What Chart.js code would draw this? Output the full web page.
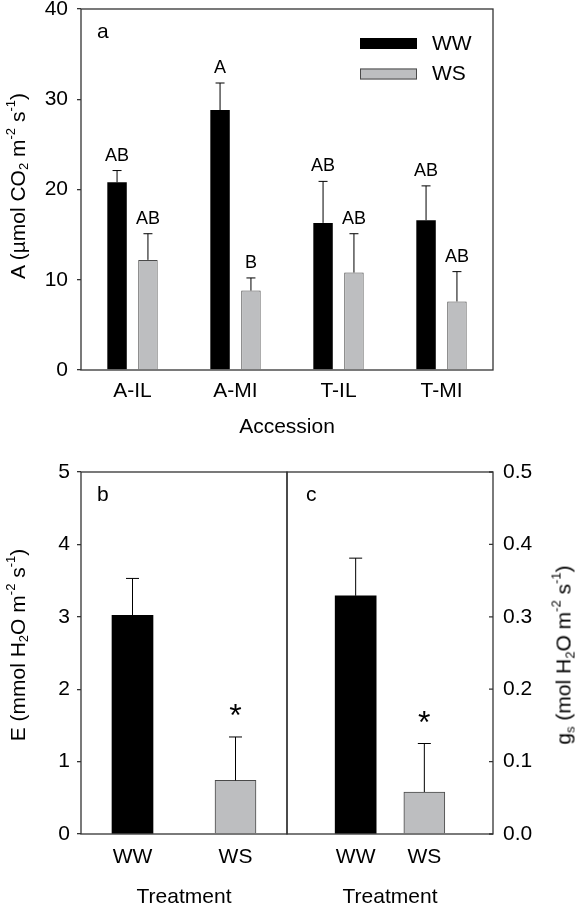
<!DOCTYPE html>
<html>
<head>
<meta charset="utf-8">
<script src="https://cdn.jsdelivr.net/npm/chart.js@4.4.1/dist/chart.umd.min.js"></script>
<style>
  body { margin: 0; background: #fff; }
  #figure { position: relative; width: 581px; height: 906px; overflow: hidden; }
  #figure canvas { position: absolute; left: 0; top: 0; }
  .ytitle {
    position: absolute;
    transform: translate(-50%, -50%) rotate(-90deg);
    white-space: nowrap;
    font: 21px 'Liberation Sans', Arial, sans-serif;
    line-height: 1;
    color: #000;
  }
  .ytitle sub, .ytitle sup { font-size: 0.62em; line-height: 0; }
  .ytitle sub { vertical-align: -0.3em; }
  .ytitle sup { vertical-align: 0.75em; }
</style>
</head>
<body>
<div id="figure">
  <canvas id="chartA" width="581" height="906"></canvas>
  <canvas id="chartB" width="581" height="906"></canvas>
  <canvas id="chartC" width="581" height="906"></canvas>
  <div class="ytitle" style="left:17px; top:186px">A (µmol CO<sub>2</sub> m<sup>-2</sup> s<sup>-1</sup>)</div>
  <div class="ytitle" style="left:17px; top:645px">E (mmol H<sub>2</sub>O m<sup>-2</sup> s<sup>-1</sup>)</div>
  <div class="ytitle" style="left:563px; top:655px">g<sub>s</sub> (mol H<sub>2</sub>O m<sup>-2</sup> s<sup>-1</sup>)</div>
</div>

<script>
// Panel a: net photosynthesis per accession
const accessions = ['A-IL', 'A-MI', 'T-IL', 'T-MI'];
const photoWW = [20.8, 28.8, 16.3, 16.6];
const photoWWErr = [1.3, 3.0, 4.6, 3.8];
const photoWS = [12.2, 8.8, 10.8, 7.6];
const photoWSErr = [2.9, 1.4, 4.3, 3.3];
const lettersWW = ['AB', 'A', 'AB', 'AB'];
const lettersWS = ['AB', 'B', 'AB', 'AB'];
const photoTicks = [0, 10, 20, 30, 40];

// Panels b and c: transpiration and stomatal conductance per treatment
const treatments = ['WW', 'WS'];
const transpiration = [3.02, 0.74];
const transpirationErr = [0.51, 0.60];
const conductance = [0.329, 0.058];
const conductanceErr = [0.052, 0.067];
const stars = ['', '*'];
const transpirationTicks = [0, 1, 2, 3, 4, 5];
const conductanceTicks = [0, 0.1, 0.2, 0.3, 0.4, 0.5];

const FONT = "'Liberation Sans', Arial, sans-serif";
const BLACK = '#000000';
const GREY = '#bdbec0';
const GREY_EDGE = '#4a4a4a';
const FRAME = '#333333';

// error bars, letters, frame, panel letter and legend
const figurePlugin = {
    id: 'figure',
    afterDatasetsDraw(chart, args, opts) {
        const ctx = chart.ctx;
        const area = chart.chartArea;
        ctx.save();

        chart.data.datasets.forEach((ds, di) => {
            const meta = chart.getDatasetMeta(di);
            const yScale = chart.scales[meta.yAxisID];
            meta.data.forEach((bar, i) => {
                const v = ds.data[i];
                if (v === null || v === undefined) return;
                const top = yScale.getPixelForValue(v + ds.errors[i]);
                ctx.strokeStyle = '#000';
                ctx.lineWidth = 1;
                ctx.beginPath();
                ctx.moveTo(bar.x, bar.y);
                ctx.lineTo(bar.x, top);
                ctx.moveTo(bar.x - opts.cap, top);
                ctx.lineTo(bar.x + opts.cap, top);
                ctx.stroke();
                const mark = ds.marks[i];
                if (mark) {
                    ctx.fillStyle = '#000';
                    ctx.font = opts.markFont;
                    ctx.textAlign = 'center';
                    ctx.textBaseline = 'alphabetic';
                    ctx.fillText(mark, bar.x, top - opts.markGap);
                }
            });
        });

        // box round the plot
        ctx.strokeStyle = FRAME;
        ctx.lineWidth = 1.3;
        ctx.strokeRect(area.left, area.top, area.right - area.left, area.bottom - area.top);

        // ticks pointing inwards on a right-hand axis
        if (opts.insideTicks) {
            const y = chart.scales.y;
            ctx.beginPath();
            y.ticks.forEach(t => {
                const py = y.getPixelForValue(t.value);
                ctx.moveTo(area.right - 4, py);
                ctx.lineTo(area.right, py);
            });
            ctx.stroke();
        }

        ctx.fillStyle = '#000';
        ctx.font = '21px ' + FONT;
        ctx.textAlign = 'left';
        ctx.textBaseline = 'alphabetic';
        ctx.fillText(opts.letter, area.left + opts.letterX, area.top + 29);

        if (opts.legend) {
            chart.data.datasets.forEach((ds, di) => {
                const x = opts.legend.x;
                const y = opts.legend.y + di * opts.legend.step;
                ctx.fillStyle = ds.backgroundColor;
                ctx.fillRect(x, y, 57, 11);
                if (ds.borderWidth) {
                    ctx.strokeStyle = ds.borderColor;
                    ctx.lineWidth = 1;
                    ctx.strokeRect(x + 0.5, y + 0.5, 56, 10);
                }
                ctx.fillStyle = '#000';
                ctx.font = '21px ' + FONT;
                ctx.textBaseline = 'middle';
                ctx.fillText(ds.label, x + 72, y + 6);
            });
        }
        ctx.restore();
    }
};

function yAxis(ticks, width, position, padding, decimals) {
    return {
        position: position,
        min: ticks[0],
        max: ticks[ticks.length - 1],
        afterBuildTicks: s => { s.ticks = ticks.map(v => ({ value: v })); },
        afterFit: s => { s.width = width; s.paddingTop = 0; s.paddingBottom = 0; },
        grid: {
            drawOnChartArea: false,
            drawTicks: position === 'left',
            tickLength: 4,
            color: FRAME,
            lineWidth: 1.3
        },
        border: { display: false },
        ticks: {
            padding: padding,
            color: '#000',
            font: { family: FONT, size: 21 },
            callback: v => Number(v).toFixed(decimals)
        }
    };
}

function xAxis(height, padding, title, titlePad, titleLine) {
    return {
        afterFit: s => { s.height = height; s.paddingLeft = 0; s.paddingRight = 0; },
        grid: { display: false, drawTicks: false },
        border: { display: false },
        ticks: { padding: padding, color: '#000', font: { family: FONT, size: 21 }, autoSkip: false, maxRotation: 0 },
        title: {
            display: true,
            text: title,
            color: '#000',
            font: { family: FONT, size: 21, lineHeight: titleLine },
            padding: { top: 0, bottom: titlePad }
        }
    };
}

function baseOptions(padding) {
    return {
        responsive: false,
        animation: false,
        devicePixelRatio: 1,
        events: [],
        layout: { padding: padding },
        plugins: { legend: { display: false }, tooltip: { enabled: false } }
    };
}

function initCharts() {
    // Panel a
    const optsA = baseOptions({ top: 9, right: 88, bottom: 456, left: 0 });
    optsA.scales = {
        x: xAxis(80, 9, 'Accession', 10, 1.2),
        y: yAxis(photoTicks, 81, 'left', 9, 0)
    };
    optsA.plugins.figure = {
        cap: 4.5, markFont: '18px ' + FONT, markGap: 10,
        letter: 'a', letterX: 16,
        legend: { x: 360, y: 38, step: 30.5 }
    };
    new Chart(document.getElementById('chartA'), {
        type: 'bar',
        data: {
            labels: accessions,
            datasets: [
                { label: 'WW', data: photoWW, errors: photoWWErr, marks: lettersWW,
                  backgroundColor: BLACK, borderColor: BLACK, borderWidth: 0,
                  categoryPercentage: 0.6, barPercentage: 0.63 },
                { label: 'WS', data: photoWS, errors: photoWSErr, marks: lettersWS,
                  backgroundColor: GREY, borderColor: GREY_EDGE, borderWidth: 1,
                  categoryPercentage: 0.6, barPercentage: 0.63 }
            ]
        },
        options: optsA,
        plugins: [figurePlugin]
    });

    // Panel b
    const optsB = baseOptions({ top: 472, right: 294, bottom: 0, left: 0 });
    optsB.scales = {
        x: xAxis(72, 11, 'Treatment', 0, 0.85),
        y: yAxis(transpirationTicks, 81, 'left', 7, 0)
    };
    optsB.plugins.figure = { cap: 6.5, markFont: '32px ' + FONT, markGap: 11, letter: 'b', letterX: 16 };
    new Chart(document.getElementById('chartB'), {
        type: 'bar',
        data: {
            labels: treatments,
            datasets: [{
                label: 'E', data: transpiration, errors: transpirationErr, marks: stars,
                backgroundColor: [BLACK, GREY], borderColor: [BLACK, GREY_EDGE], borderWidth: [0, 1],
                barThickness: 41
            }]
        },
        options: optsB,
        plugins: [figurePlugin]
    });

    // Panel c: bars sit at one and two thirds of the panel width
    const optsC = baseOptions({ top: 472, right: 28, bottom: 0, left: 287 });
    optsC.scales = {
        x: Object.assign(xAxis(72, 11, 'Treatment', 0, 0.85), { offset: false }),
        y: yAxis(conductanceTicks, 60, 'right', 10, 1)
    };
    optsC.plugins.figure = { cap: 6.5, markFont: '32px ' + FONT, markGap: 11, letter: 'c', letterX: 19, insideTicks: true };
    new Chart(document.getElementById('chartC'), {
        type: 'bar',
        data: {
            labels: ['', ...treatments, ''],
            datasets: [{
                label: 'gs', data: [null, ...conductance, null],
                errors: [null, ...conductanceErr, null], marks: ['', ...stars, ''],
                backgroundColor: [BLACK, BLACK, GREY, GREY], borderColor: [BLACK, BLACK, GREY_EDGE, GREY_EDGE],
                borderWidth: [0, 0, 1, 1],
                barThickness: 41
            }]
        },
        options: optsC,
        plugins: [figurePlugin]
    });
}

document.addEventListener('DOMContentLoaded', function() {
    initCharts();
});
</script>
</body>
</html>
